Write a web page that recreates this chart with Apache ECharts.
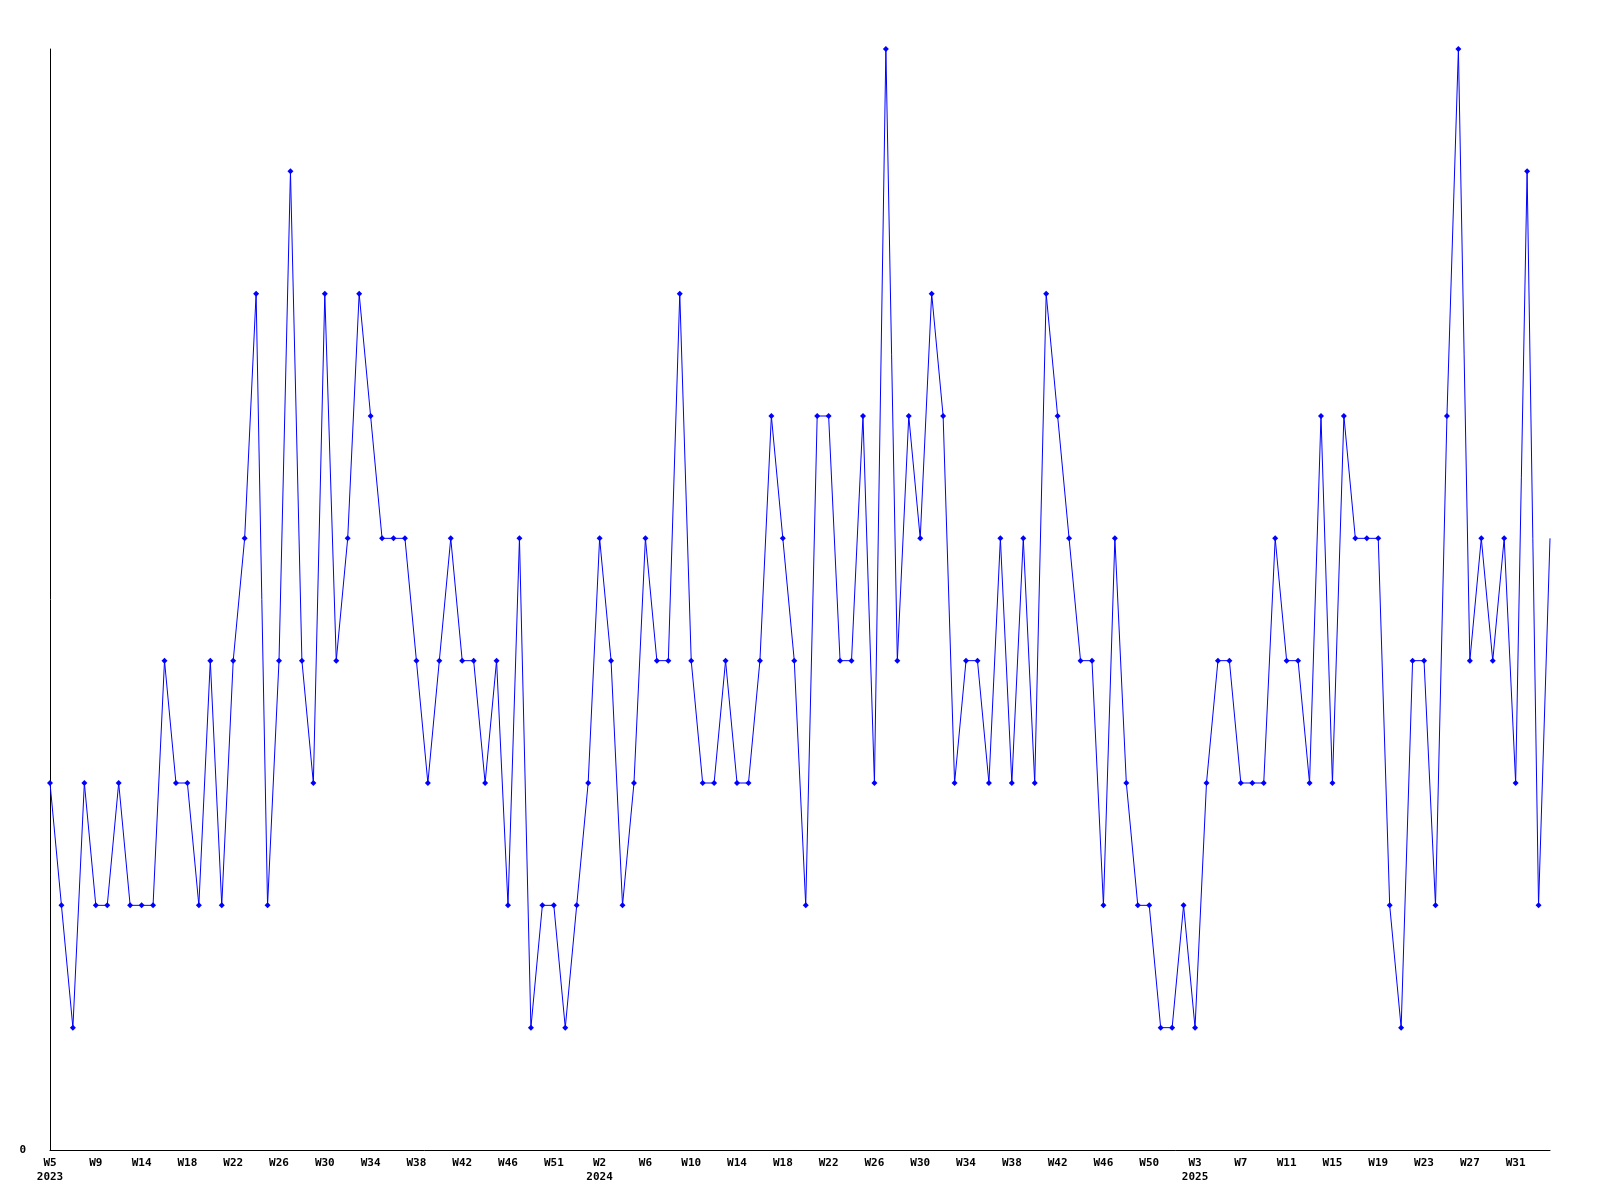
<!DOCTYPE html>
<html>
<head>
<meta charset="utf-8">
<script src="https://cdn.jsdelivr.net/npm/echarts@6/dist/echarts.min.js"></script>
<style>
html,body{margin:0;padding:0;background:#fff;}
#chart{width:1600px;height:1200px;}
</style>
</head>
<body>
<div id="chart"></div>
<script>
// Weekly values (2023 W5 .. 2025), one per week
const values = [
  3,2,1,3,2,2,3,2,2,2,
  4,3,3,2,4,2,4,5,7,2,
  4,8,4,3,7,4,5,7,6,5,
  5,5,4,3,4,5,4,4,3,4,
  2,5,1,2,2,1,2,3,5,4,
  2,3,5,4,4,7,4,3,3,4,
  3,3,4,6,5,4,2,6,6,4,
  4,6,3,9,4,6,5,7,6,3,
  4,4,3,5,3,5,3,7,6,5,
  4,4,2,5,3,2,2,1,1,2,
  1,3,4,4,3,3,3,5,4,4,
  3,6,3,6,5,5,5,2,1,4,
  4,2,6,9,4,5,4,5,3,8,
  2,5
];

// Tick labels shown every 4th week
const weekTicks = [
  'W5','W9','W14','W18','W22','W26','W30','W34','W38','W42','W46','W51',
  'W2','W6','W10','W14','W18','W22','W26','W30','W34','W38','W42','W46','W50',
  'W3','W7','W11','W15','W19','W23','W27','W31'
];
// Year shown under a tick label (same order as weekTicks)
const yearTicks = [
  '2023','','','','','','','','','','','',
  '2024','','','','','','','','','','','','',
  '2025','','','','','','',''
];

const categories = values.map((_, i) => {
  if (i % 4 !== 0) return '';
  const k = i / 4;
  if (k >= weekTicks.length) return '';
  return yearTicks[k] ? weekTicks[k] + '\n' + yearTicks[k] : weekTicks[k];
});

const seriesData = values.map((v, i) =>
  i === values.length - 1 ? { value: v, symbol: 'none' } : v
);

const chart = echarts.init(document.getElementById('chart'), null, { renderer: 'canvas' });
chart.setOption({
  backgroundColor: '#ffffff',
  animation: false,
  grid: { left: 50, right: 50, top: 49, bottom: 50, containLabel: false },
  xAxis: {
    type: 'category',
    data: categories,
    boundaryGap: false,
    axisLine: { show: true, lineStyle: { color: '#000', width: 1 } },
    axisTick: { show: false },
    splitLine: { show: false },
    axisLabel: {
      interval: 3,
      margin: 6,
      color: '#000',
      fontFamily: 'DejaVu Sans Mono',
      fontWeight: 'bold',
      fontSize: 11,
      lineHeight: 14
    }
  },
  yAxis: {
    type: 'value',
    min: 0,
    max: 9,
    interval: 9,
    axisLine: { show: true, lineStyle: { color: '#000', width: 1 } },
    axisTick: { show: false },
    splitLine: { show: false },
    axisLabel: {
      margin: 24,
      color: '#000',
      fontFamily: 'DejaVu Sans Mono',
      fontWeight: 'bold',
      fontSize: 11,
      formatter: v => (v === 0 ? '0' : '')
    }
  },
  series: [{
    type: 'line',
    data: seriesData,
    lineStyle: { color: '#0000ff', width: 1 },
    itemStyle: { color: '#0000ff' },
    symbol: 'diamond',
    symbolSize: 6,
    showAllSymbol: true,
    silent: true
  }]
});
</script>
</body>
</html>
